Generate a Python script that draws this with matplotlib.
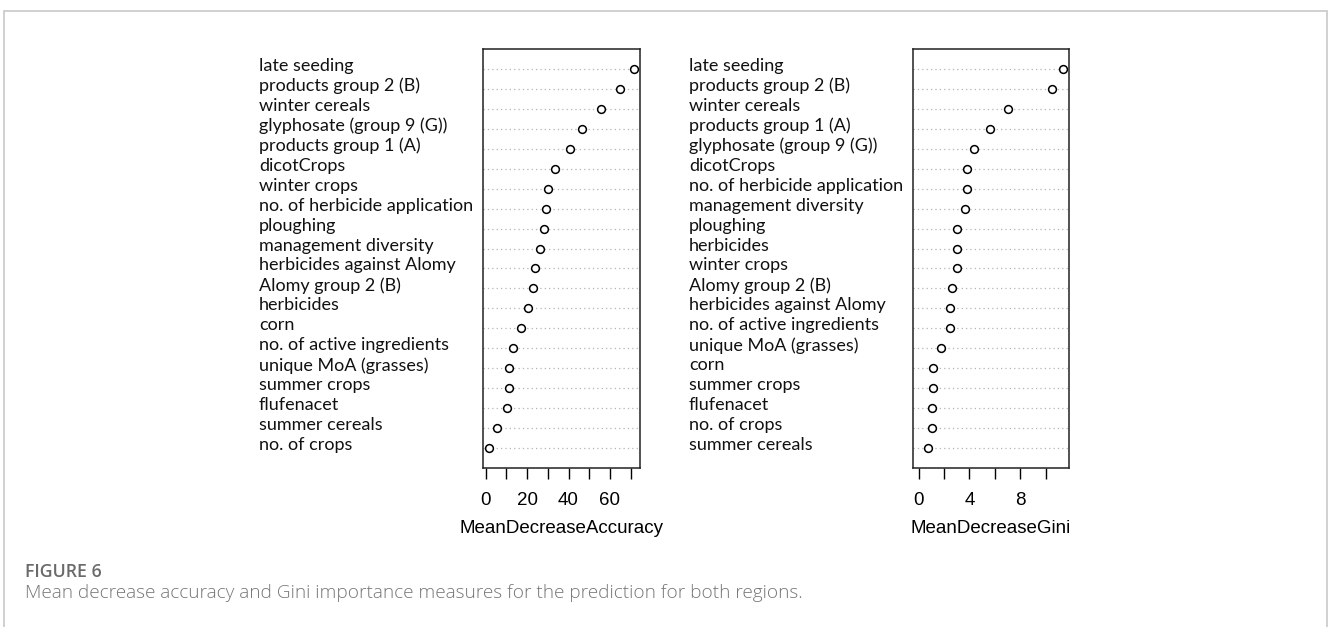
import matplotlib
matplotlib.use("Agg")
import matplotlib.pyplot as plt
import matplotlib.transforms as mtransforms
from matplotlib.patches import Rectangle

# variable importance from the random forest, ordered as plotted (top to bottom)
acc_vars = ["late seeding", "products group 2 (B)", "winter cereals",
            "glyphosate (group 9 (G))", "products group 1 (A)", "dicotCrops",
            "winter crops", "no. of herbicide application", "ploughing",
            "management diversity", "herbicides against Alomy",
            "Alomy group 2 (B)", "herbicides", "corn",
            "no. of active ingredients", "unique MoA (grasses)",
            "summer crops", "flufenacet", "summer cereals", "no. of crops"]
acc_vals = [71.6, 64.9, 55.7, 46.7, 40.6, 33.5, 30.1, 29.0, 28.3, 26.1,
            24.0, 22.9, 20.4, 16.9, 13.0, 11.4, 11.4, 10.3, 5.3, 1.8]

gini_vars = ["late seeding", "products group 2 (B)", "winter cereals",
             "products group 1 (A)", "glyphosate (group 9 (G))", "dicotCrops",
             "no. of herbicide application", "management diversity",
             "ploughing", "herbicides", "winter crops", "Alomy group 2 (B)",
             "herbicides against Alomy", "no. of active ingredients",
             "unique MoA (grasses)", "corn", "summer crops", "flufenacet",
             "no. of crops", "summer cereals"]
gini_vals = [11.38, 10.55, 7.04, 5.65, 4.37, 3.82, 3.82, 3.64, 3.01, 3.01,
             3.01, 2.60, 2.51, 2.51, 1.78, 1.13, 1.13, 1.05, 1.05, 0.76]

acc_ticks = [0, 10, 20, 30, 40, 50, 60, 70]
acc_ticklabels = ["0", "", "20", "", "40", "", "60", ""]
gini_ticks = [0, 2, 4, 6, 8, 10]
gini_ticklabels = ["0", "", "4", "", "8", ""]

W, H = 1328, 627
fig = plt.figure(figsize=(W / 100, H / 100), dpi=100)
fig.patch.set_facecolor("white")

# thin grey page frame
fig.patches.append(Rectangle((4 / W, -0.1), (1327 - 4) / W, (H - 11) / H + 0.1,
                             transform=fig.transFigure, fill=False,
                             edgecolor="#c8c8c8", linewidth=1.2))


def px_axes(x0, x1, y0, y1):
    return fig.add_axes([x0 / W, (H - y1) / H, (x1 - x0) / W, (y1 - y0) / H])


def dotchart(ax, names, vals, xlim, ticks, ticklabels, xlabel, label_x):
    n = len(vals)
    ypos = [n - i for i in range(n)]
    for y in ypos:
        ax.axhline(y, color="#b4b4b4", linestyle=(0, (1, 2.5)), linewidth=0.9, zorder=1)
    ax.plot(vals, ypos, linestyle="none", marker="o", markersize=5.6,
            markerfacecolor="white", markeredgecolor="black",
            markeredgewidth=1.1, zorder=3)
    ax.set_xlim(*xlim)
    ax.set_ylim(0, n + 1)
    ax.set_yticks([])
    ax.set_xticks(ticks)
    ax.set_xticklabels(ticklabels, fontsize=13.5, family="Liberation Sans")
    ax.tick_params(axis="x", direction="out", length=8, width=1, pad=9)
    ax.set_xlabel(xlabel, fontsize=13.5, family="Liberation Sans", labelpad=8)
    for s in ax.spines.values():
        s.set_linewidth(1.1)
        s.set_color("#222222")
    trans = mtransforms.blended_transform_factory(fig.transFigure, ax.transData)
    for name, y in zip(names, ypos):
        ax.text(label_x / W, y + 0.15, name, transform=trans, ha="left",
                va="center", fontsize=13, family="Lato", color="#111111")


ax1 = px_axes(483, 640, 49, 468)
dotchart(ax1, acc_vars, acc_vals, (-1.3, 74.5), acc_ticks, acc_ticklabels,
         "MeanDecreaseAccuracy", 259)

ax2 = px_axes(913, 1069, 49, 468)
dotchart(ax2, gini_vars, gini_vals, (-0.44, 11.85), gini_ticks, gini_ticklabels,
         "MeanDecreaseGini", 689)

fig.text(25 / W, 1 - 572 / H, "FIGURE 6", fontsize=12.8, family="Open Sans",
         weight="semibold", color="#6a6a6a", va="center", ha="left")
fig.text(25 / W, 1 - 593 / H,
         "Mean decrease accuracy and Gini importance measures for the prediction for both regions.",
         fontsize=13.7, family="Open Sans", weight="light", color="#777777",
         va="center", ha="left")

fig.savefig("out.png", dpi=100, facecolor="white")
